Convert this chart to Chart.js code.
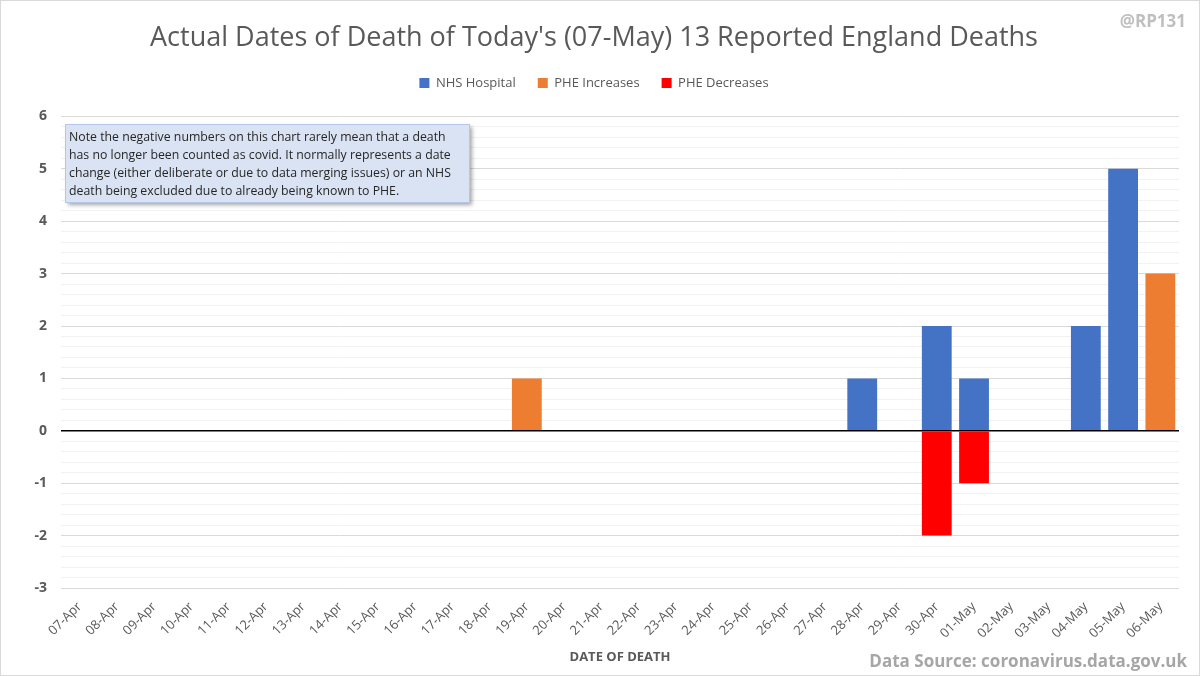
<!DOCTYPE html>
<html>
<head>
<meta charset="utf-8">
<script src="https://cdn.jsdelivr.net/npm/chart.js@4.4.1/dist/chart.umd.min.js"></script>
<style>
  html, body { margin: 0; padding: 0; background: #fff; }
  #wrap { position: relative; width: 1200px; height: 676px; box-sizing: border-box; border: 1px solid #d9d9d9; }
  canvas { display: block; }
</style>
</head>
<body>
<div id="wrap"><canvas id="chart" width="1198" height="674"></canvas></div>
<script>
const dates = ['07-Apr','08-Apr','09-Apr','10-Apr','11-Apr','12-Apr','13-Apr','14-Apr','15-Apr','16-Apr',
  '17-Apr','18-Apr','19-Apr','20-Apr','21-Apr','22-Apr','23-Apr','24-Apr','25-Apr','26-Apr',
  '27-Apr','28-Apr','29-Apr','30-Apr','01-May','02-May','03-May','04-May','05-May','06-May'];

const nhsHospital  = [null,null,null,null,null,null,null,null,null,null,null,null,null,null,null,null,null,null,null,null,null,1,null,2,1,null,null,2,5,null];
const pheIncreases = [null,null,null,null,null,null,null,null,null,null,null,null,1,null,null,null,null,null,null,null,null,null,null,null,null,null,null,null,null,3];
const pheDecreases = [null,null,null,null,null,null,null,null,null,null,null,null,null,null,null,null,null,null,null,null,null,null,null,-2,-1,null,null,null,null,null];

const noteLines = [
  'Note the negative numbers on this chart rarely mean that a death',
  'has no longer been counted as covid. It normally represents a date',
  'change (either deliberate or due to data merging issues) or an NHS',
  'death being excluded due to already being known to PHE.'
];

const grey = '#595959';

// extra space under the legend row
const legendGap = {
  id: 'legendGap',
  afterInit(chart) {
    const fit = chart.legend.fit;
    chart.legend.fit = function () {
      fit.call(this);
      this.height += 17;
    };
  }
};

const extras = {
  id: 'extras',
  afterDraw(chart) {
    const ctx = chart.ctx;
    // note box
    ctx.save();
    ctx.shadowColor = 'rgba(0,0,0,0.35)';
    ctx.shadowBlur = 4;
    ctx.shadowOffsetX = 3;
    ctx.shadowOffsetY = 3;
    ctx.fillStyle = '#dae3f3';
    ctx.fillRect(64, 123, 404, 78);
    ctx.restore();
    ctx.save();
    ctx.strokeStyle = '#b4c7e7';
    ctx.lineWidth = 1;
    ctx.strokeRect(64.5, 123.5, 404, 78);
    ctx.fillStyle = '#262626';
    ctx.font = '12.3px "Open Sans", sans-serif';
    ctx.textBaseline = 'middle';
    noteLines.forEach((t, i) => ctx.fillText(t, 68, 136 + i * 18));
    // watermark + source
    ctx.fillStyle = '#bfbfbf';
    ctx.font = 'bold 17px "Open Sans", sans-serif';
    ctx.textAlign = 'right';
    ctx.fillText('@RP131', 1185, 21);
    ctx.fillStyle = '#a6a6a6';
    ctx.fillText('Data Source: coronavirus.data.gov.uk', 1186, 661);
    ctx.restore();
  }
};

new Chart(document.getElementById('chart'), {
  type: 'bar',
  data: {
    labels: dates,
    datasets: [
      { label: 'NHS Hospital', data: nhsHospital, backgroundColor: '#4472c4' },
      { label: 'PHE Increases', data: pheIncreases, backgroundColor: '#ed7d31' },
      { label: 'PHE Decreases', data: pheDecreases, backgroundColor: '#ff0000' }
    ]
  },
  options: {
    responsive: false,
    animation: false,
    layout: { padding: { left: 8, right: 20, top: 10, bottom: 4 } },
    datasets: { bar: { barPercentage: 0.8, categoryPercentage: 1 } },
    plugins: {
      title: {
        display: true,
        text: "Actual Dates of Death of Today's (07-May) 13 Reported England Deaths",
        color: grey,
        font: { family: '"Open Sans", sans-serif', size: 27, weight: 'normal' },
        padding: { top: 11, bottom: 0 }
      },
      legend: {
        position: 'top',
        labels: {
          color: grey,
          font: { family: '"Open Sans", sans-serif', size: 13 },
          boxWidth: 10,
          boxHeight: 10,
          padding: 22
        }
      },
      tooltip: { enabled: false }
    },
    scales: {
      x: {
        stacked: true,
        afterFit(scale) { scale.height = 83; },
        grid: { display: false },
        border: { display: false },
        ticks: {
          color: grey,
          font: { family: '"Open Sans", sans-serif', size: 13 },
          maxRotation: 45, minRotation: 45, autoSkip: false
        },
        title: {
          display: true,
          text: 'DATE OF DEATH',
          color: grey,
          font: { family: '"Open Sans", sans-serif', size: 13, weight: 'bold' },
          padding: { top: 0, bottom: 6 }
        }
      },
      y: {
        stacked: true,
        min: -3,
        max: 6,
        border: { display: false },
        afterFit(scale) { scale.width = 52; },
        grid: {
          drawTicks: false,
          color(c) {
            const v = c.tick.value;
            if (Math.abs(v) < 1e-6) return '#000000';
            return Math.abs(v - Math.round(v)) < 1e-6 ? '#d9d9d9' : '#f2f2f2';
          },
          lineWidth(c) {
            return Math.abs(c.tick.value) < 1e-6 ? 1.5 : 1;
          }
        },
        ticks: {
          stepSize: 0.2,
          autoSkip: false,
          padding: 14,
          color: grey,
          font: { family: '"Open Sans", sans-serif', size: 14, weight: 'bold' },
          callback(v) {
            return Math.abs(v - Math.round(v)) < 1e-6 ? Math.round(v) : '';
          }
        }
      }
    }
  },
  plugins: [legendGap, extras]
});
</script>
</body>
</html>
